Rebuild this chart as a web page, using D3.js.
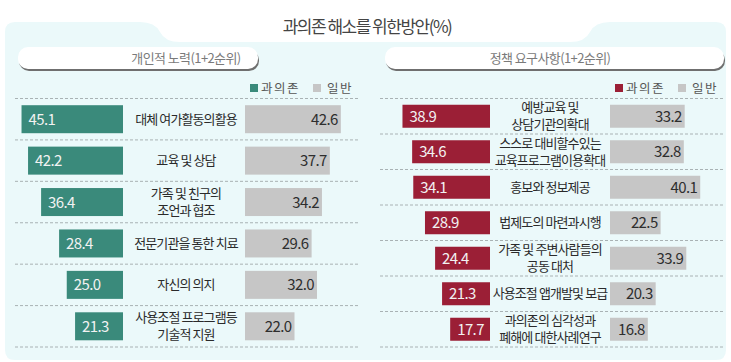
<!DOCTYPE html>
<html>
<head>
<meta charset="utf-8">
<script src="https://cdn.jsdelivr.net/npm/d3@7"></script>
<style>
  body { margin: 0; background: #fff; }
  svg { display: block; font-family: "Noto Sans CJK KR", "Noto Sans", sans-serif; }
</style>
</head>
<body>
<svg id="chart" width="731" height="362"></svg>
<script>
// data
const title = "과의존 해소를 위한방안(%)";
const seriesNames = ["과의존", "일반"];

const leftTitle = "개인적 노력(1+2순위)";
const leftLabels = [["대체 여가활동의활용"], ["교육 및 상담"], ["가족 및 친구의", "조언과 협조"],
  ["전문기관을 통한 치료"], ["자신의 의지"], ["사용조절 프로그램등", "기술적 지원"]];
const leftAddicted = [45.1, 42.2, 36.4, 28.4, 25.0, 21.3];
const leftGeneral = [42.6, 37.7, 34.2, 29.6, 32.0, 22.0];

const rightTitle = "정책 요구사항(1+2순위)";
const rightLabels = [["예방교육 및", "상담기관의확대"], ["스스로 대비할수있는", "교육프로그램이용확대"],
  ["홍보와 정보제공"], ["법제도의 마련과시행"], ["가족 및 주변사람들의", "공동 대처"],
  ["사용조절 앱개발및 보급"], ["과의존의 심각성과", "폐해에 대한사례연구"]];
const rightAddicted = [38.9, 34.6, 34.1, 28.9, 24.4, 21.3, 17.7];
const rightGeneral = [33.2, 32.8, 40.1, 22.5, 33.9, 20.3, 16.8];

const svg = d3.select("#chart");
const gray = "#c6c6c6";

// background
svg.append("path")
  .attr("d", "M5,350 V32 Q5,22 15,22 H140 Q155,22 160,32 Q165,42 180,42 H570 Q585,42 590,32 Q595,22 610,22 H716 Q726,22 726,32 V350 Q726,360 716,360 H15 Q5,360 5,350 Z")
  .attr("fill", "#ebf9fa");

svg.append("text")
  .attr("x", 367).attr("y", 33)
  .attr("text-anchor", "middle")
  .style("font-size", "17px").style("letter-spacing", "-1.5px")
  .attr("fill", "#444")
  .text(title);

// bar length scale, same for both panels
const x = d3.scaleLinear().domain([0, 50]).range([0, 112.5]);

function panel(o) {
  const g = svg.append("g");

  // header pill
  g.append("rect")
    .attr("x", o.pill[0] + 1).attr("y", 50).attr("width", o.pill[1] - o.pill[0]).attr("height", 21)
    .attr("rx", 10).attr("fill", "#6f6f6f");
  g.append("rect")
    .attr("x", o.pill[0]).attr("y", 47).attr("width", o.pill[1] - o.pill[0]).attr("height", 22)
    .attr("rx", 10).attr("fill", "#fff");
  g.append("text")
    .attr("x", o.labelX).attr("y", 63)
    .attr("text-anchor", "middle")
    .style("font-size", "13px").style("letter-spacing", "-0.6px")
    .attr("fill", "#7a7a7a")
    .text(o.title);

  // legend
  const lg = g.append("g").attr("transform", `translate(${o.legendX},88)`);
  lg.append("rect").attr("x", 0).attr("y", -4).attr("width", 8).attr("height", 8).attr("fill", o.color);
  lg.append("text").attr("x", 11).attr("y", 4.5).style("font-size", "12.5px").style("letter-spacing", "1.5px")
    .attr("fill", "#555").text(seriesNames[0]);
  lg.append("rect").attr("x", 63).attr("y", -4).attr("width", 8).attr("height", 8).attr("fill", gray);
  lg.append("text").attr("x", 77).attr("y", 4.5).style("font-size", "12.5px").style("letter-spacing", "1.5px")
    .attr("fill", "#555").text(seriesNames[1]);

  const n = o.a.length;
  const y = d3.scaleBand().domain(d3.range(n)).range([98.5, 347]);
  const step = y.step();

  // dashed separators
  g.selectAll(".sep")
    .data(d3.range(n + 1))
    .join("line")
    .attr("x1", o.span[0]).attr("x2", o.span[1])
    .attr("y1", d => d === n ? 347 : y(d)).attr("y2", d => d === n ? 347 : y(d))
    .attr("stroke", "#a9b2b4").attr("stroke-width", 1).attr("stroke-dasharray", "3,2");

  const off = (step - o.barH) / 2;

  // addicted bars (grow left)
  g.selectAll(".ba")
    .data(o.a)
    .join("rect")
    .attr("x", d => o.aEnd - x(d)).attr("y", (d, i) => y(i) + off)
    .attr("width", d => x(d)).attr("height", o.barH)
    .attr("fill", o.color);
  g.selectAll(".ta")
    .data(o.a)
    .join("text")
    .attr("x", d => o.aEnd - x(d) + 7).attr("y", (d, i) => y(i) + step / 2 + 5.5)
    .style("font-size", "15px").style("letter-spacing", "-0.6px")
    .attr("fill", "#f2f2f2")
    .text(d => d.toFixed(1));

  // general bars (grow right)
  g.selectAll(".bg")
    .data(o.b)
    .join("rect")
    .attr("x", o.bStart).attr("y", (d, i) => y(i) + off)
    .attr("width", d => x(d)).attr("height", o.barH)
    .attr("fill", gray);
  g.selectAll(".tb")
    .data(o.b)
    .join("text")
    .attr("x", d => o.bStart + x(d) - 3).attr("y", (d, i) => y(i) + step / 2 + 5.5)
    .attr("text-anchor", "end")
    .style("font-size", "15px").style("letter-spacing", "-0.6px")
    .attr("fill", "#2e2e2e")
    .text(d => d.toFixed(1));

  // category labels, one text per line
  const lines = o.labels.flatMap((d, i) => d.map((t, k) => ({ t, i, k, n: d.length })));
  g.selectAll(".lab")
    .data(lines)
    .join("text")
    .attr("x", o.labelX)
    .attr("y", d => y(d.i) + step / 2 + 4.5 + (d.k - (d.n - 1) / 2) * 17)
    .attr("text-anchor", "middle")
    .style("font-size", "13px").style("letter-spacing", "-0.9px")
    .attr("fill", "#2a2a2a")
    .text(d => d.t);
}

panel({
  title: leftTitle, labels: leftLabels, a: leftAddicted, b: leftGeneral,
  color: "#3a8a7b", pill: [18, 258], span: [15, 360], legendX: 250,
  aEnd: 123, bStart: 245, labelX: 186, barH: 28
});
panel({
  title: rightTitle, labels: rightLabels, a: rightAddicted, b: rightGeneral,
  color: "#9b1f36", pill: [385, 724], span: [380, 725], legendX: 615,
  aEnd: 490, bStart: 610, labelX: 550, barH: 23
});
</script>
</body>
</html>
